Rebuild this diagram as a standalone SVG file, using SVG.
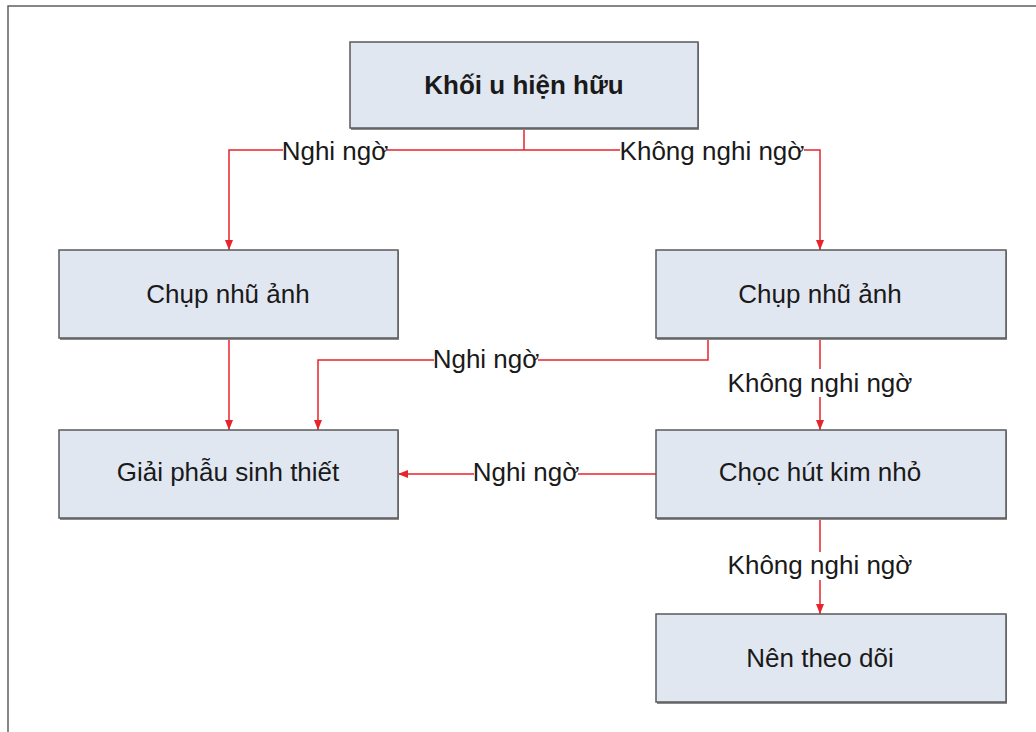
<svg xmlns="http://www.w3.org/2000/svg" width="1036" height="732" viewBox="0 0 1036 732">
<style>
.box{fill:#e1e7f1;stroke:#5a5a5a;stroke-width:1.5}
.sh{fill:#8a8a8a}
.t{font-family:"Liberation Sans",Arial,sans-serif;font-size:26px;fill:#1a1a1a;text-anchor:middle;dominant-baseline:central}
.b{font-weight:bold}
.c{fill:none;stroke:#e8232b;stroke-width:1.5}
.lbl{font-family:"Liberation Sans",Arial,sans-serif;font-size:26px;fill:#1a1a1a;text-anchor:middle;dominant-baseline:central}
.bg{fill:#ffffff}
</style>
<defs>
<marker id="ah" viewBox="0 0 10 10" refX="10" refY="5" markerWidth="10" markerHeight="10" markerUnits="userSpaceOnUse" orient="auto">
<path d="M0,1 L10,5 L0,9 Z" fill="#e8232b"/>
</marker>
</defs>
<rect x="0" y="0" width="1036" height="732" fill="#ffffff"/>
<path d="M8,732 L8,6 L1036,6" fill="none" stroke="#5f5f5f" stroke-width="1.5"/>

<g id="connectors">
<path class="c" d="M524,128 L524,150"/>
<path class="c" d="M524,150 L229,150 L229,250" marker-end="url(#ah)"/>
<path class="c" d="M524,150 L820,150 L820,250" marker-end="url(#ah)"/>
<path class="c" d="M229,338 L229,430" marker-end="url(#ah)"/>
<path class="c" d="M708,338 L708,360 L318,360 L318,430" marker-end="url(#ah)"/>
<path class="c" d="M820,338 L820,430" marker-end="url(#ah)"/>
<path class="c" d="M656,474 L398,474" marker-end="url(#ah)"/>
<path class="c" d="M820,518 L820,614" marker-end="url(#ah)"/>
<rect class="bg" x="283" y="137" width="104" height="28"/>
<text class="lbl" x="335" y="151">Nghi ngờ</text>
<rect class="bg" x="620" y="137" width="184" height="28"/>
<text class="lbl" x="712" y="151">Không nghi ngờ</text>
<rect class="bg" x="434" y="346" width="104" height="28"/>
<text class="lbl" x="486" y="359">Nghi ngờ</text>
<rect class="bg" x="726" y="369" width="188" height="28"/>
<text class="lbl" x="820" y="383">Không nghi ngờ</text>
<rect class="bg" x="474" y="460" width="104" height="28"/>
<text class="lbl" x="526" y="472">Nghi ngờ</text>
<rect class="bg" x="726" y="552" width="188" height="28"/>
<text class="lbl" x="820" y="565">Không nghi ngờ</text>
</g>

<g id="n1">
<rect class="sh" x="351" y="43" width="348" height="87"/>
<rect class="box" x="350" y="42" width="348" height="86"/>
<text class="t b" x="524" y="85">Khối u hiện hữu</text>
</g>
<g id="n2">
<rect class="sh" x="60" y="251" width="339" height="89"/>
<rect class="box" x="59" y="250" width="339" height="88"/>
<text class="t" x="228" y="294">Chụp nhũ ảnh</text>
</g>
<g id="n3">
<rect class="sh" x="657" y="251" width="350" height="89"/>
<rect class="box" x="656" y="250" width="350" height="88"/>
<text class="t" x="820" y="294">Chụp nhũ ảnh</text>
</g>
<g id="n4">
<rect class="sh" x="60" y="431" width="339" height="89"/>
<rect class="box" x="59" y="430" width="339" height="88"/>
<text class="t" x="228" y="472">Giải phẫu sinh thiết</text>
</g>
<g id="n5">
<rect class="sh" x="657" y="431" width="350" height="89"/>
<rect class="box" x="656" y="430" width="350" height="88"/>
<text class="t" x="820" y="472">Chọc hút kim nhỏ</text>
</g>
<g id="n6">
<rect class="sh" x="657" y="615" width="350" height="89"/>
<rect class="box" x="656" y="614" width="350" height="88"/>
<text class="t" x="820" y="658">Nên theo dõi</text>
</g>
</svg>
